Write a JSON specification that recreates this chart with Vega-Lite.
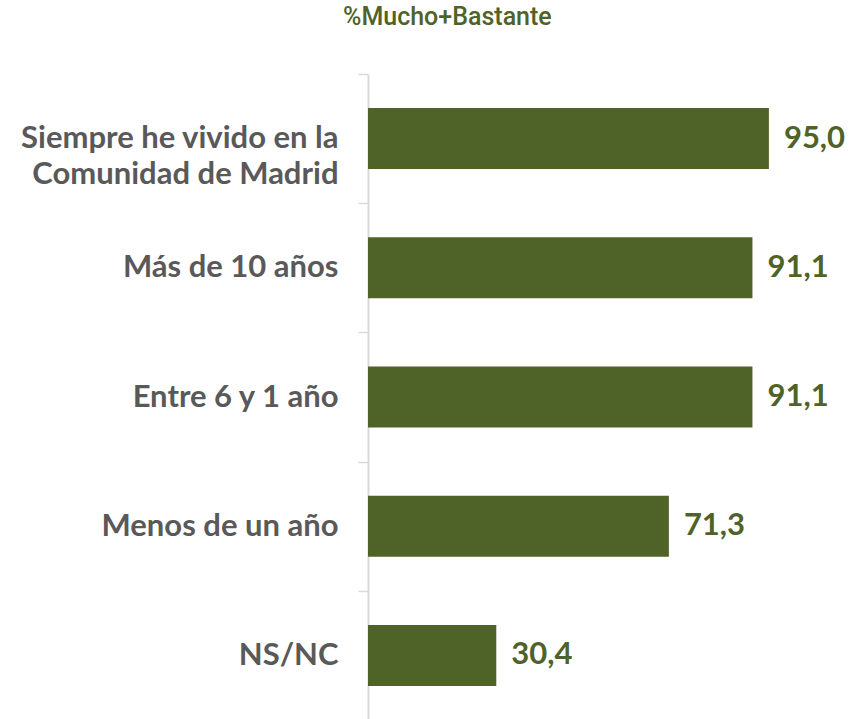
{
  "$schema": "https://vega.github.io/schema/vega-lite/v6.json",
  "autosize": {"type": "none"},
  "padding": {"left": 368, "top": 74, "right": 77, "bottom": 0},
  "width": 422,
  "height": 646,
  "background": "white",
  "config": {
    "view": {"stroke": null},
    "locale": {"number": {"decimal": ",", "thousands": ".", "grouping": [3], "currency": ["", " €"]}}
  },
  "title": {
    "text": "%Mucho+Bastante",
    "anchor": "start",
    "frame": "group",
    "dx": -25,
    "offset": 8,
    "baseline": "alphabetic",
    "font": "Roboto",
    "fontSize": 25,
    "fontWeight": 500,
    "color": "#4f6228"
  },
  "data": {
    "values": [
      {"categoria": "Siempre he vivido en la|Comunidad de Madrid", "valor": 95.0},
      {"categoria": "Más de 10 años", "valor": 91.1},
      {"categoria": "Entre 6 y 1 año", "valor": 91.1},
      {"categoria": "Menos de un año", "valor": 71.3},
      {"categoria": "NS/NC", "valor": 30.4}
    ]
  },
  "encoding": {
    "y": {
      "field": "categoria",
      "type": "nominal",
      "sort": null,
      "scale": {"paddingInner": 0, "paddingOuter": 0},
      "axis": {
        "title": null,
        "labelExpr": "split(datum.label, '|')",
        "labelFont": "Lato",
        "labelFontSize": 31,
        "labelFontWeight": "bold",
        "labelColor": "#595959",
        "labelLineHeight": 36,
        "labelPadding": 20,
        "labelLimit": 400,
        "labelAlign": "right",
        "labelBaseline": "middle",
        "tickBand": "extent",
        "tickSize": 10,
        "tickColor": "#d9d9d9",
        "tickWidth": 1.5,
        "domainColor": "#d9d9d9",
        "domainWidth": 2
      }
    },
    "x": {
      "field": "valor",
      "type": "quantitative",
      "scale": {"domain": [0, 100], "nice": false},
      "axis": null
    }
  },
  "layer": [
    {"mark": {"type": "bar", "color": "#4f6228", "height": {"band": 0.472}}},
    {
      "mark": {
        "type": "text",
        "align": "left",
        "baseline": "middle",
        "dx": 15,
        "font": "Lato",
        "fontSize": 31,
        "fontWeight": "bold",
        "color": "#4f6228"
      },
      "encoding": {"text": {"field": "valor", "type": "quantitative", "format": ".1f"}}
    }
  ]
}
